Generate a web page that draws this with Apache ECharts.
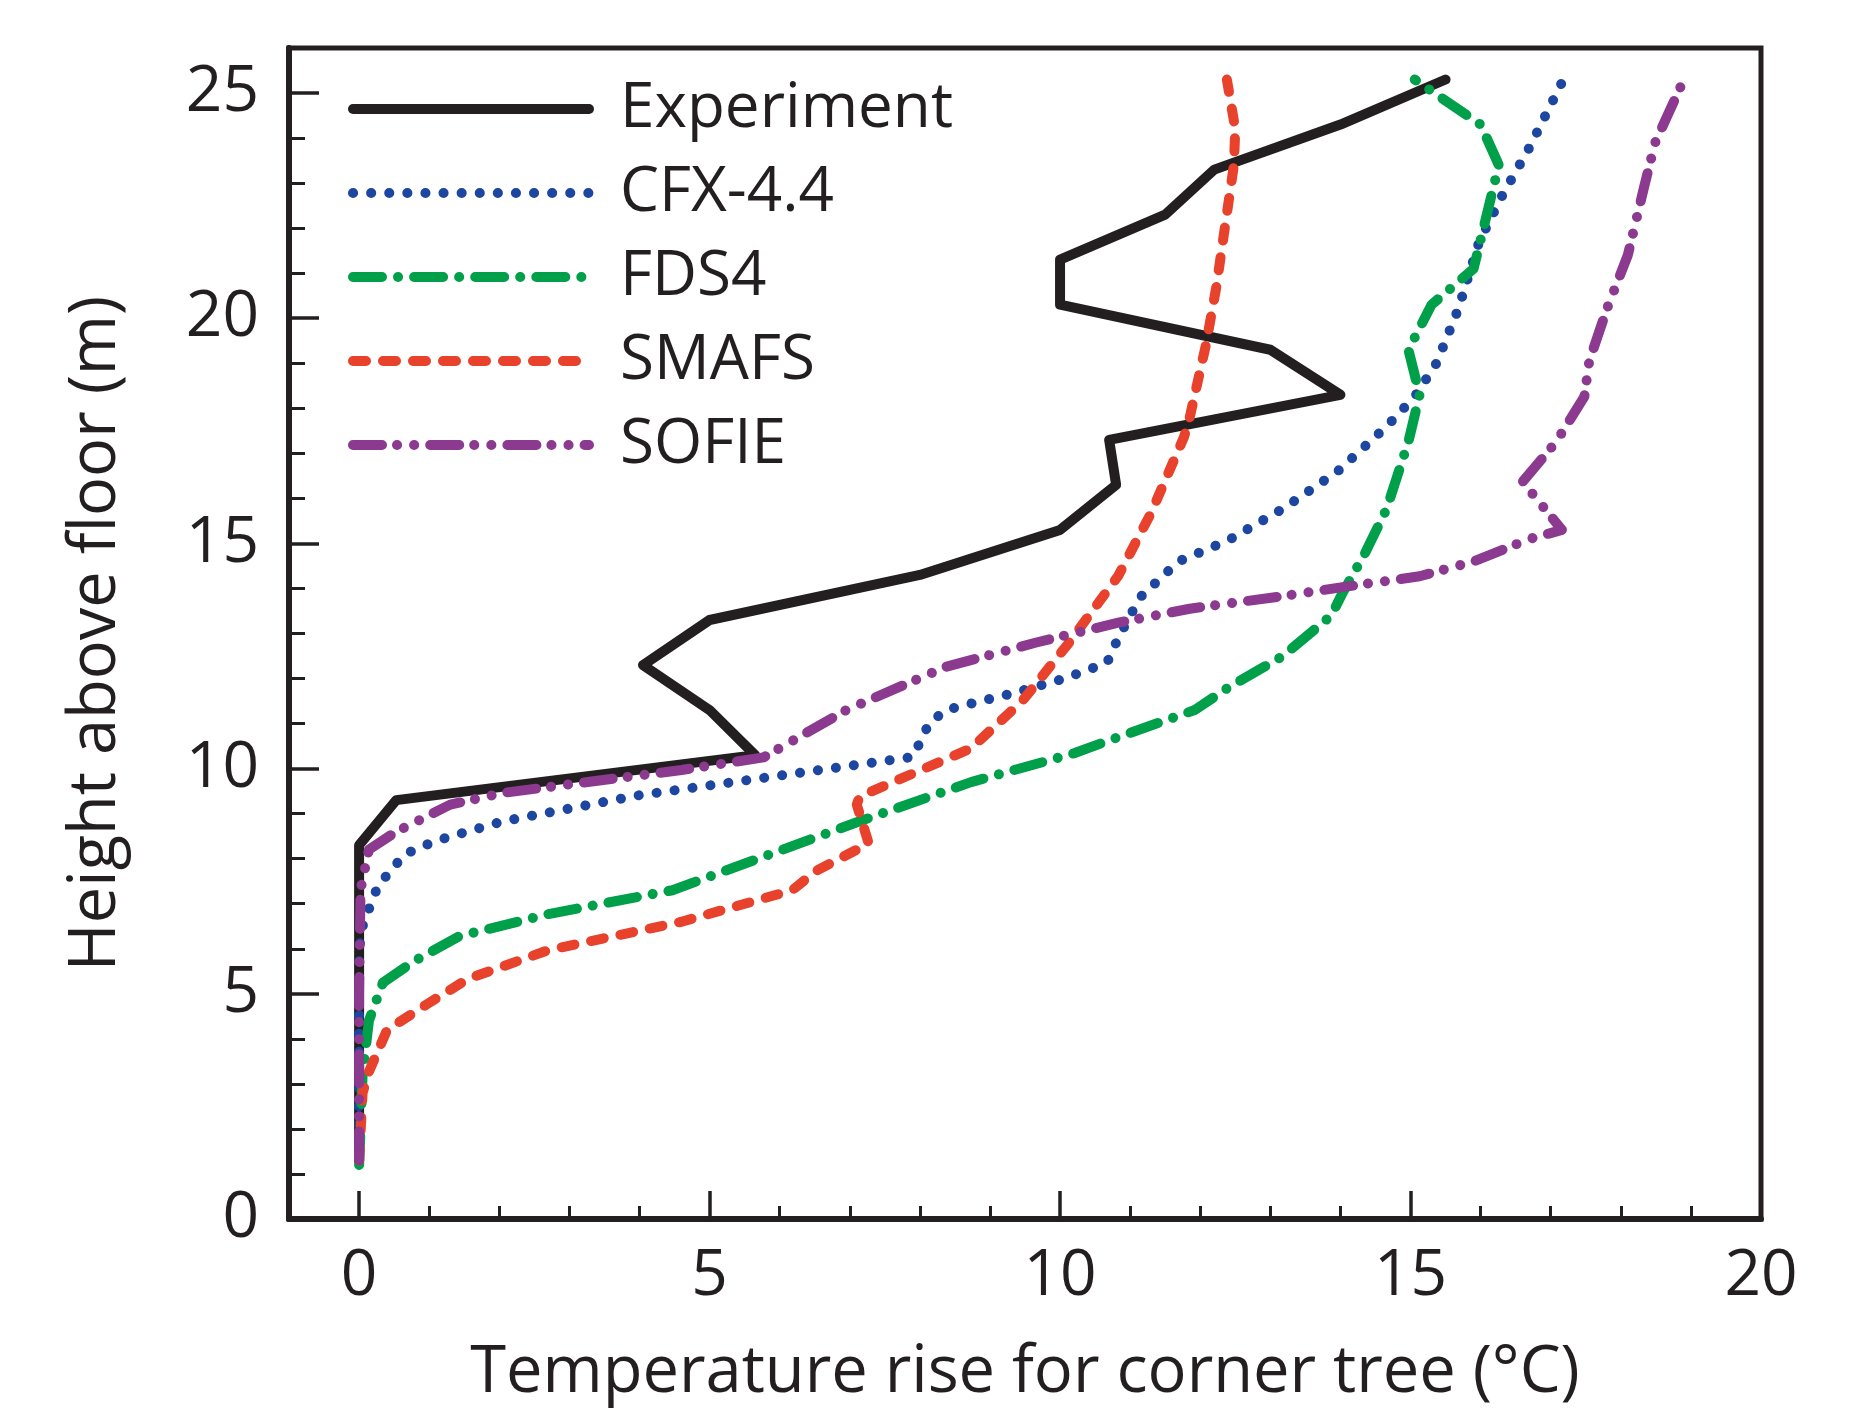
<!DOCTYPE html>
<html>
<head>
<meta charset="utf-8">
<title>Temperature rise for corner tree</title>
<script src="https://cdn.jsdelivr.net/npm/echarts@6/dist/echarts.min.js"></script>
<style>
  html, body { margin: 0; padding: 0; background: #fff; }
  #chart { width: 1851px; height: 1412px; }
</style>
</head>
<body>
<div id="chart"></div>
<script>
// tick values
const xMajor = [0, 5, 10, 15, 20];
const xMinor = [1, 2, 3, 4, 6, 7, 8, 9, 11, 12, 13, 14, 16, 17, 18, 19];
const yMajor = [0, 5, 10, 15, 20, 25];
const yMinor = [1, 2, 3, 4, 6, 7, 8, 9, 11, 12, 13, 14, 16, 17, 18, 19, 21, 22, 23, 24];

// Experiment (measured every metre)
const expHeight = [1.3, 2.3, 3.3, 4.3, 5.3, 6.3, 7.3, 8.3, 9.3, 10.3, 11.3, 12.3, 13.3, 14.3, 15.3, 16.3, 17.3, 18.3, 19.3, 20.3, 21.3, 22.3, 23.3, 24.3, 25.3];
const expTemp = [0, 0, 0, 0, 0, 0, 0, 0, 0.53, 5.65, 5.0, 4.05, 5.0, 8.0, 10.0, 10.8, 10.7, 14.0, 13.0, 10.0, 10.0, 11.5, 12.2, 14.0, 15.5];

// CFX-4.4
const cfxTemp = [0, 0, 0, 0.05, 0.12, 0.27, 0.65, 1.1, 2.05, 3.96, 5.8, 7.9, 8.13, 8.37, 8.87, 9.32, 10.06, 10.67, 10.83, 11.14, 11.69, 12.4, 13.18, 13.96, 14.66, 15.06, 15.37, 15.68, 15.98, 16.3, 16.7, 17.18];
const cfxHeight = [1.3, 4.0, 6.0, 6.5, 6.8, 7.4, 8.1, 8.4, 8.83, 9.4, 9.8, 10.26, 11.0, 11.3, 11.5, 11.67, 12.0, 12.35, 12.9, 13.8, 14.6, 15.07, 15.77, 16.6, 17.6, 18.26, 19.0, 20.2, 21.7, 22.7, 23.8, 25.3];

// FDS4
const fdsTemp = [0, 0.05, 0.14, 0.34, 0.78, 1.43, 2.7, 4.47, 7.14, 8.73, 10.2, 10.83, 11.92, 12.4, 13.18, 13.87, 14.03, 14.35, 14.66, 14.97, 15.13, 14.97, 15.3, 15.9, 16.26, 16.0, 15.06];
const fdsHeight = [1.2, 3.2, 4.4, 5.25, 5.72, 6.28, 6.77, 7.3, 8.83, 9.7, 10.34, 10.7, 11.3, 11.8, 12.5, 13.4, 13.9, 14.78, 15.77, 17.26, 18.3, 19.3, 20.3, 21.1, 23.4, 24.3, 25.3];

// SMAFS
const smafsTemp = [0, 0.05, 0.14, 0.4, 0.97, 1.55, 2.7, 4.6, 6.18, 6.51, 7.27, 7.1, 7.14, 8.73, 9.46, 10.13, 10.83, 11.3, 11.77, 11.85, 12.08, 12.23, 12.35, 12.48, 12.5, 12.38];
const smafsHeight = [1.3, 2.8, 3.27, 4.2, 4.77, 5.33, 5.97, 6.6, 7.3, 7.72, 8.34, 9.2, 9.38, 10.45, 11.5, 12.8, 14.28, 15.68, 17.37, 17.8, 19.4, 20.7, 22.0, 23.4, 24.2, 25.3];

// SOFIE
const sofieTemp = [0, 0, 0.02, 0.14, 0.53, 1.3, 2.05, 4.6, 5.77, 6.95, 8.37, 9.66, 10.83, 11.85, 13.18, 14.03, 15.13, 15.9, 16.7, 17.16, 16.6, 17.08, 17.48, 17.55, 17.8, 18.1, 18.33, 18.49, 18.9];
const sofieHeight = [1.3, 5.0, 7.3, 8.2, 8.6, 9.2, 9.46, 9.97, 10.25, 11.3, 12.26, 12.8, 13.24, 13.55, 13.83, 14.03, 14.27, 14.6, 15.1, 15.3, 16.37, 17.26, 18.26, 19.05, 20.2, 21.4, 22.9, 23.9, 25.3];

const ink = '#231f20';
const font = '"Open Sans", "Noto Sans", sans-serif';

function pairs(xs, ys) {
  return xs.map((x, i) => [x, ys[i]]);
}

function makeSeries(name, xs, ys, color, width, dash) {
  return {
    name: name,
    type: 'line',
    data: pairs(xs, ys),
    symbol: 'none',
    showSymbol: false,
    animation: false,
    lineStyle: {
      color: color,
      width: width,
      type: dash,
      cap: 'round',
      join: 'round'
    },
    itemStyle: { color: color }
  };
}

const chart = echarts.init(document.getElementById('chart'));

const option = {
  backgroundColor: '#fff',
  animation: false,
  grid: {
    left: 289,
    right: 90,
    top: 48,
    bottom: 193,
    show: true,
    borderColor: ink,
    borderWidth: 5
  },
  legend: {
    orient: 'vertical',
    left: 343,
    top: 69,
    itemWidth: 236,
    itemHeight: 20,
    itemGap: 14,
    itemStyle: { opacity: 0 },
    lineStyle: { width: 10, cap: 'round' },
    textStyle: {
      fontSize: 62,
      fontFamily: font,
      color: ink,
      lineHeight: 70,
      padding: [0, 0, 0, 26]
    },
    data: ['Experiment', 'CFX-4.4', 'FDS4', 'SMAFS', 'SOFIE']
  },
  xAxis: [
    {
      type: 'value',
      min: -1,
      max: 20,
      position: 'bottom',
      name: 'Temperature rise for corner tree (°C)',
      nameLocation: 'middle',
      nameGap: 122,
      nameTextStyle: { fontSize: 65, fontFamily: font, color: ink },
      axisLine: { show: true, onZero: false, lineStyle: { color: ink, width: 6 } },
      axisTick: { show: true, inside: true, length: 28, customValues: xMajor, lineStyle: { color: ink, width: 3.5 } },
      axisLabel: { customValues: xMajor, fontSize: 64, fontFamily: font, color: ink, margin: 26 },
      splitLine: { show: false }
    },
    {
      type: 'value',
      min: -1,
      max: 20,
      position: 'bottom',
      axisLine: { show: false, onZero: false },
      axisTick: { show: true, inside: true, length: 13, customValues: xMinor, lineStyle: { color: ink, width: 3 } },
      axisLabel: { show: false },
      splitLine: { show: false }
    }
  ],
  yAxis: [
    {
      type: 'value',
      min: 0,
      max: 26,
      position: 'left',
      name: 'Height above floor (m)',
      nameLocation: 'middle',
      nameGap: 160,
      nameTextStyle: { fontSize: 65, fontFamily: font, color: ink },
      axisLine: { show: true, onZero: false, lineStyle: { color: ink, width: 6 } },
      axisTick: { show: true, inside: true, length: 30, customValues: yMajor, lineStyle: { color: ink, width: 3.5 } },
      axisLabel: { customValues: yMajor, fontSize: 64, fontFamily: font, color: ink, margin: 30 },
      splitLine: { show: false }
    },
    {
      type: 'value',
      min: 0,
      max: 26,
      position: 'left',
      axisLine: { show: false, onZero: false },
      axisTick: { show: true, inside: true, length: 16, customValues: yMinor, lineStyle: { color: ink, width: 3 } },
      axisLabel: { show: false },
      splitLine: { show: false }
    }
  ],
  series: [
    makeSeries('Experiment', expTemp, expHeight, ink, 10, 'solid'),
    makeSeries('CFX-4.4', cfxTemp, cfxHeight, '#1d46a0', 10, [0.1, 18]),
    makeSeries('FDS4', fdsTemp, fdsHeight, '#00a04a', 10, [29, 16, 0.1, 16]),
    makeSeries('SMAFS', smafsTemp, smafsHeight, '#e8412c', 10, [13, 17]),
    makeSeries('SOFIE', sofieTemp, sofieHeight, '#8b3a8f', 10, [29, 15, 0.1, 17, 0.1, 16])
  ]
};

chart.setOption(option);
</script>
</body>
</html>
